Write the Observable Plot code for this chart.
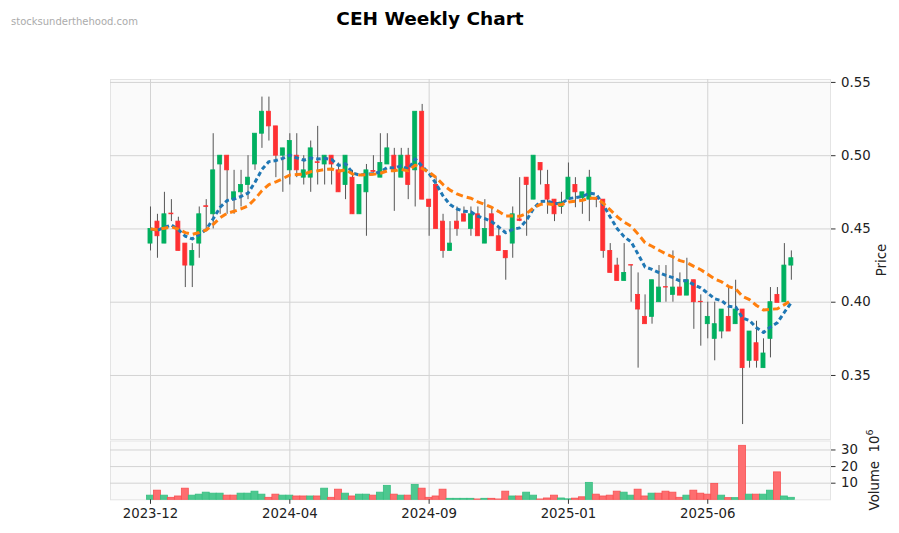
<!DOCTYPE html>
<html>
<head>
<meta charset="utf-8">
<script src="https://cdn.jsdelivr.net/npm/d3@7"></script>
<script src="https://cdn.jsdelivr.net/npm/@observablehq/plot@0.6"></script>
<style>
  html, body { margin: 0; padding: 0; background: #ffffff; }
  #wrap { position: relative; width: 899px; height: 533px; overflow: hidden; font-family: "DejaVu Sans", sans-serif; }
  .abs { position: absolute; }
  #title { left: 0; width: 860px; top: 8px; text-align: center; font-size: 18.5px; font-weight: bold; line-height: 22px; color: #000; }
  #wm { left: 11px; top: 16px; font-size: 10px; line-height: 12px; color: #ababab; }
  .ylab { font-size: 13.3px; color: #222; white-space: pre; transform: translate(-50%, -50%) rotate(-90deg); line-height: 16px; }
  .ylab sup { font-size: 9.5px; vertical-align: 6px; }
</style>
</head>
<body>
<div id="wrap">
  <div id="title" class="abs">CEH Weekly Chart</div>
  <div id="wm" class="abs">stocksunderthehood.com</div>
  <div id="price" class="abs" style="left:0;top:0"></div>
  <div id="vol" class="abs" style="left:0;top:440px"></div>
  <div class="abs ylab" style="left:882px;top:260px">Price</div>
  <div class="abs ylab" style="left:872px;top:470px">Volume  10<sup>6</sup></div>
</div>
<script>
// Weekly OHLC (index 0 = first week of Dec 2023)
const open = [
  .44,.455,.44,.4605,.455,.44,.425,.44,.4655,.46,
  .494,.50,.47,.475,.48,.494,.515,.53,.52,.50,
  .49,.50,.485,.485,.4955,.494,.50,.49,.48,.485,
  .46,.475,.4895,.485,.494,.50,.485,.50,.49,.53,
  .47,.48,.455,.435,.455,.46,.45,.46,.44,.46,
  .445,.435,.44,.4565,.485,.47,.495,.48,.47,.465,
  .47,.48,.471,.47,.4705,.47,.435,.425,.4145,.4253,
  .405,.39,.39,.40,.4103,.405,.41,.4045,.415,.4003,
  .385,.375,.38,.39,.385,.395,.36,.372,.355,.375,
  .405,.40,.425];
const high = [
  .465,.46,.475,.47,.458,.44,.44,.465,.47,.515,
  .50,.50,.49,.49,.50,.515,.54,.54,.52,.505,
  .515,.515,.50,.51,.52,.50,.50,.495,.50,.49,
  .48,.494,.50,.515,.515,.505,.505,.505,.53,.535,
  .47,.485,.46,.455,.465,.465,.465,.465,.47,.465,
  .45,.435,.465,.485,.485,.50,.495,.49,.47,.475,
  .495,.485,.475,.49,.4705,.47,.44,.43,.44,.4253,
  .42,.405,.415,.425,.425,.435,.42,.43,.415,.405,
  .40,.40,.395,.41,.415,.395,.38,.387,.375,.41,
  .41,.44,.435];
const low = [
  .435,.43,.44,.455,.435,.41,.41,.43,.45,.45,
  .46,.46,.46,.465,.47,.49,.505,.51,.485,.475,
  .48,.485,.48,.475,.48,.48,.48,.475,.47,.46,
  .46,.445,.488,.485,.494,.462,.485,.47,.465,.47,
  .445,.45,.43,.435,.445,.455,.445,.445,.44,.445,
  .435,.415,.43,.455,.445,.47,.48,.46,.455,.46,
  .47,.4645,.46,.455,.4645,.43,.42,.4145,.4145,.40,
  .355,.385,.385,.40,.40,.40,.4045,.4045,.3815,.37,
  .375,.36,.375,.38,.385,.3165,.355,.355,.355,.362,
  .40,.40,.415];
const close = [
  .45,.445,.46,.46,.435,.425,.435,.46,.465,.49,
  .50,.49,.475,.48,.485,.515,.53,.52,.50,.505,
  .51,.49,.49,.505,.495,.50,.494,.475,.50,.46,
  .48,.49,.489,.495,.505,.49,.50,.48,.53,.47,
  .465,.45,.435,.44,.45,.455,.46,.445,.45,.445,
  .435,.43,.46,.4555,.48,.50,.49,.47,.46,.468,
  .485,.475,.475,.485,.47,.435,.42,.4145,.42,.425,
  .395,.385,.415,.41,.41,.41,.4045,.415,.40,.40,
  .39,.385,.395,.38,.395,.355,.38,.36,.365,.40,
  .3995,.425,.43];
// Volume in millions of shares
const volume = [
  2.5,5.5,2.5,1.2,2.0,6.7,2.5,3.1,4.3,3.7,
  3.7,2.5,2.5,3.7,3.7,4.9,3.1,1.2,3.1,2.5,
  2.5,2.0,2.0,2.0,2.0,6.7,1.2,6.1,3.7,2.0,
  3.1,3.1,2.5,4.3,8.4,3.1,2.5,2.5,9.0,6.7,
  1.2,2.0,6.1,0.6,0.6,0.6,0.6,0.2,0.6,0.6,
  0.2,4.9,2.0,2.0,4.3,2.5,0.2,0.8,2.5,0.8,
  0.3,0.7,1.5,10.2,3.1,2.0,2.5,4.9,4.3,2.5,
  6.1,2.0,3.7,3.7,4.9,4.3,1.2,2.5,5.5,3.7,
  3.1,9.6,2.5,1.0,1.0,32.5,3.1,3.1,3.1,5.5,
  16.5,2.0,1.2];
const xTickIdx = [0, 20, 40, 60, 80];
const xTickLabels = ["2023-12", "2024-04", "2024-09", "2025-01", "2025-06"];
const priceTicks = [0.35, 0.40, 0.45, 0.50, 0.55];
const volTicks = [10, 20, 30];
const maSpans = [10, 20];

const UP = "#00b060", DOWN = "#fe3032";
const VUP = "#4dc890", VDOWN = "#fe6e70";
const GRID = "#d3d3d3";

function ema(values, span) {
  const a = 2 / (span + 1);
  let e;
  return values.map((v, i) => (e = i === 0 ? v : a * v + (1 - a) * e));
}
const ma1 = ema(close, maSpans[0]);
const ma2 = ema(close, maSpans[1]);

const rows = close.map((c, i) => ({
  i, o: open[i], h: high[i], l: low[i], c, v: volume[i],
  m1: ma1[i], m2: ma2[i],
  col: c >= open[i] ? UP : DOWN,
  vcol: (i === 0 ? c >= open[i] : c > close[i - 1]) ? VUP : VDOWN,
  vedge: (i === 0 ? c >= open[i] : c > close[i - 1]) ? "#36bf80" : "#f85052"
}));

const xDomain = [-5.742, 97.62];
const common = {
  width: 899, marginLeft: 110, marginRight: 69,
  style: { fontFamily: "DejaVu Sans", fontSize: "13.3px", background: "transparent", color: "#222", overflow: "visible" },
  color: { type: "identity" }
};

const price = Plot.plot({
  ...common,
  height: 440, marginTop: 79, marginBottom: 1,
  x: { type: "linear", domain: xDomain, axis: null },
  y: { domain: [0.3063, 0.552], axis: null },
  marks: [
    Plot.frame({ fill: "#fafafa", stroke: "#e4e4e4" }),
    Plot.gridY({ ticks: priceTicks, stroke: GRID, strokeOpacity: 1, strokeWidth: 1 }),
    Plot.gridX({ ticks: xTickIdx, stroke: GRID, strokeOpacity: 1, strokeWidth: 1 }),
    Plot.axisY({ ticks: priceTicks, anchor: "right", tickSize: 4.5, tickPadding: 6, tickFormat: d3.format(".2f"), label: null, stroke: "#333" }),
    Plot.ruleX(rows, { x: "i", y1: "l", y2: "h", stroke: "#555", strokeWidth: 1 }),
    Plot.rect(rows, { x1: d => d.i - 0.29, x2: d => d.i + 0.29, y1: "o", y2: "c", fill: "col", stroke: "col", strokeWidth: 0.8 }),
    Plot.line(rows, { x: "i", y: "m1", stroke: "#1f77b4", strokeWidth: 3, strokeDasharray: "4.5,3", strokeLinecap: "butt", curve: "linear" }),
    Plot.line(rows, { x: "i", y: "m2", stroke: "#ff7f0e", strokeWidth: 3, strokeDasharray: "7,4", strokeLinecap: "butt", curve: "linear" })
  ]
});
document.getElementById("price").appendChild(price);

const vol = Plot.plot({
  ...common,
  height: 93, marginTop: 0.5, marginBottom: 33.7,
  x: { type: "linear", domain: xDomain, axis: null },
  y: { domain: [0, 35.4], axis: null },
  marks: [
    Plot.frame({ fill: "#fafafa", stroke: "#e4e4e4" }),
    Plot.gridY({ ticks: volTicks, stroke: GRID, strokeOpacity: 1, strokeWidth: 1 }),
    Plot.gridX({ ticks: xTickIdx, stroke: GRID, strokeOpacity: 1, strokeWidth: 1 }),
    Plot.rect(rows, { x1: d => d.i - 0.5, x2: d => d.i + 0.5, y1: 0, y2: "v", fill: "vcol", stroke: "vedge", strokeWidth: 0.8 }),
    Plot.axisY({ ticks: volTicks, anchor: "right", tickSize: 4.5, tickPadding: 6, label: null, stroke: "#333" }),
    Plot.axisX({ ticks: xTickIdx, anchor: "bottom", tickSize: 4.5, tickPadding: 4, label: null, stroke: "#333",
      tickFormat: d => xTickLabels[xTickIdx.indexOf(d)] })
  ]
});
document.getElementById("vol").appendChild(vol);
</script>
</body>
</html>
